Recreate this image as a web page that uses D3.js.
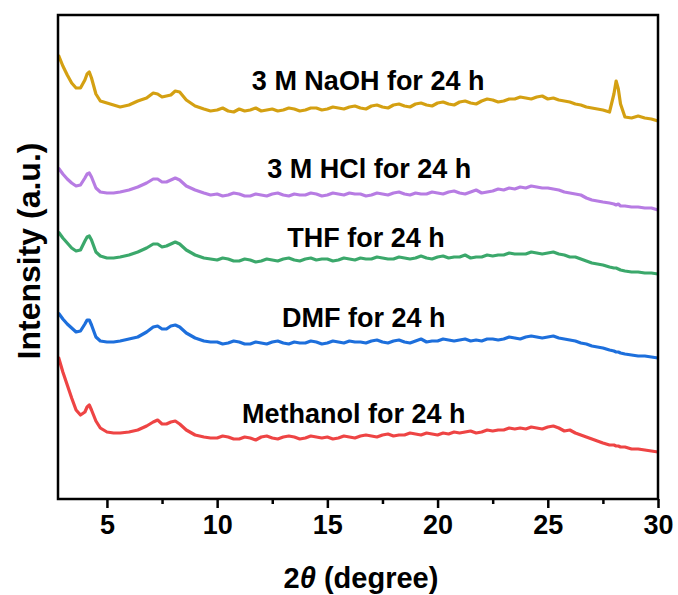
<!DOCTYPE html>
<html>
<head>
<meta charset="utf-8">
<script src="https://cdn.jsdelivr.net/npm/d3@7"></script>
<style>
  body { margin: 0; background: #fff; }
  text { font-family: "Liberation Sans", Arial, sans-serif; font-weight: bold; fill: #000; }
</style>
</head>
<body>
<div id="graph"></div>
<script>
// 2-theta grid shared by all patterns
var twoTheta = [
  2.8, 3.0, 3.2, 3.4, 3.6, 3.8, 4.0, 4.1, 4.2, 4.3, 4.5, 4.7, 5.0, 5.3, 5.6, 6.0, 6.4, 6.8,
  7.1, 7.3, 7.5, 7.7, 7.9, 8.1, 8.3, 8.6, 9.0, 9.4, 9.7,
  10.0, 10.25, 10.5, 10.75, 11.0, 11.25, 11.5, 11.75, 12.0, 12.25,
  12.5, 12.75, 13.0, 13.25, 13.5, 13.75, 14.0, 14.25, 14.5, 14.75,
  15.0, 15.25, 15.5, 15.75, 16.0, 16.25, 16.5, 16.75, 17.0, 17.25,
  17.5, 17.75, 18.0, 18.25, 18.5, 18.75, 19.0, 19.25, 19.5, 19.75,
  20.0, 20.25, 20.5, 20.75, 21.0, 21.25, 21.5, 21.75, 22.0, 22.25,
  22.5, 22.75, 23.0, 23.25, 23.5, 23.75, 24.0, 24.25, 24.5, 24.75,
  25.0, 25.25, 25.5, 25.75, 26.0, 26.25, 26.5, 26.75, 27.0, 27.25,
  27.5,
  27.8, 28.0, 28.1, 28.2, 28.3, 28.5, 28.8, 29.1, 29.4, 29.7, 30.0
];

// intensities (a.u., already offset for stacking)
var naoh = [
  444, 433, 424, 416, 411, 411, 419, 425, 427, 421, 405, 398, 396, 394, 392, 394, 398, 401,
  406, 405, 402, 403, 404, 408, 407, 399, 393, 390, 388,
  389, 391, 388, 387, 390, 388, 389, 391, 388, 389,
  390, 388, 389, 391, 390, 388, 389, 391, 391, 389,
  390, 392, 391, 390, 392, 393, 391, 390, 393, 394,
  392, 391, 394, 395, 393, 392, 395, 396, 394, 393,
  396, 397, 395, 394, 397, 398, 396, 395, 398, 400,
  399, 397, 398, 400, 400, 402, 401, 400, 402, 403,
  400, 401, 399, 398, 397, 395, 394, 392, 391, 390,
  389,
  387, 405, 418, 410, 395, 382, 381, 383, 381, 380, 378
];
var hcl = [
  331, 325, 320, 316, 313, 314, 321, 325, 326, 322, 311, 307, 306, 306, 307, 309, 312, 316,
  320, 320, 317, 317, 319, 321, 319, 313, 309, 306, 304,
  305, 303, 304, 306, 305, 303, 303, 305, 304, 303,
  305, 306, 304, 303, 305, 304, 304, 306, 305, 303,
  304, 306, 305, 304, 306, 305, 305, 303, 304, 306,
  305, 304, 306, 307, 305, 304, 306, 305, 305, 307,
  306, 305, 307, 308, 306, 305, 307, 309, 306, 307,
  308, 310, 309, 311, 310, 312, 311, 313, 312, 311,
  311, 310, 309, 307, 306, 305, 304, 301, 299, 298,
  297,
  296, 295, 294, 295, 293, 293, 292, 292, 291, 291, 289
];
var thf = [
  267, 261, 256, 251, 248, 249, 258, 262, 263, 259, 247, 243, 241, 241, 242, 244, 247, 251,
  255, 255, 252, 253, 255, 257, 255, 249, 244, 241, 240,
  239, 241, 240, 238, 238, 240, 239, 237, 238, 240,
  239, 238, 240, 241, 239, 238, 240, 241, 239, 240,
  240, 238, 239, 241, 240, 239, 241, 240, 240, 242,
  241, 240, 240, 242, 241, 240, 241, 243, 241, 240,
  242, 243, 241, 242, 242, 244, 241, 242, 242, 244,
  243, 244, 244, 246, 245, 245, 245, 247, 246, 245,
  246, 247, 245, 244, 242, 242, 240, 238, 236, 235,
  234,
  232, 231, 231, 230, 229, 228, 227, 227, 226, 226, 225
];
var dmf = [
  186, 180, 175, 171, 167, 168, 175, 179, 179, 174, 162, 158, 157, 157, 158, 160, 162, 167,
  172, 173, 170, 170, 173, 174, 172, 166, 161, 158, 157,
  157, 155, 156, 158, 157, 155, 155, 157, 156, 155,
  157, 158, 156, 155, 157, 156, 156, 158, 157, 155,
  156, 158, 157, 156, 158, 157, 157, 156, 158, 159,
  157, 156, 158, 159, 157, 156, 158, 160, 157, 158,
  158, 160, 159, 158, 159, 160, 158, 159, 158, 160,
  160, 159, 160, 162, 161, 160, 162, 163, 162, 161,
  162, 163, 161, 160, 159, 158, 156, 155, 153, 152,
  151,
  149, 148, 147, 147, 146, 145, 144, 143, 143, 142, 141
];
var methanol = [
  142, 127, 114, 101, 89, 84, 87, 92, 94, 89, 78, 71, 67, 66, 66, 67, 69, 73,
  77, 79, 75, 75, 77, 78, 75, 69, 64, 62, 61,
  61, 63, 62, 60, 60, 62, 61, 59, 62, 63,
  61, 60, 62, 63, 62, 60, 61, 63, 62, 61,
  62, 60, 61, 63, 62, 61, 63, 64, 63, 62,
  64, 65, 63, 64, 64, 66, 65, 64, 66, 65,
  64, 66, 65, 67, 66, 67, 68, 66, 67, 69,
  68, 69, 69, 71, 70, 71, 70, 72, 71, 70,
  72, 73, 71, 68, 69, 66, 64, 62, 60, 58,
  56,
  54, 54, 53, 53, 52, 52, 50, 50, 49, 48, 47
];

var seriesNames = ["3 M NaOH for 24 h", "3 M HCl for 24 h", "THF for 24 h", "DMF for 24 h", "Methanol for 24 h"];
var seriesValues = [naoh, hcl, thf, dmf, methanol];
var seriesColors = ["#d4a012", "#b77ce3", "#3ba86b", "#1d6fdc", "#ee4444"];
var xTicks = [5, 10, 15, 20, 25, 30];
var xMinorTicks = [7.5, 12.5, 17.5, 22.5, 27.5];

var width = 678, height = 595;
var plotLeft = 58, plotRight = 658, plotTop = 15, plotBottom = 499;

var svg = d3.select("#graph")
  .append("svg")
  .attr("width", width)
  .attr("height", height);

var x = d3.scaleLinear().domain([2.78, 30]).range([plotLeft, plotRight]);
var y = d3.scaleLinear().domain([0, 484]).range([plotBottom, plotTop]);

// patterns
var line = d3.line()
  .x(function(d, i) { return x(twoTheta[i]); })
  .y(function(d) { return y(d); });

seriesValues.forEach(function(vals, k) {
  svg.append("path")
    .datum(vals)
    .attr("fill", "none")
    .attr("stroke", seriesColors[k])
    .attr("stroke-width", 3.2)
    .attr("stroke-linejoin", "round")
    .attr("d", line);
});

// labels, centred above each pattern
var labelAt = [[16.85, 419], [16.9, 331], [16.75, 262], [16.65, 182], [16.2, 86]];
seriesNames.forEach(function(name, k) {
  svg.append("text")
    .attr("x", x(labelAt[k][0]))
    .attr("y", y(labelAt[k][1]))
    .attr("dy", "0.36em")
    .attr("text-anchor", "middle")
    .style("font-size", "27px")
    .text(name);
});

// frame
svg.append("rect")
  .attr("x", plotLeft).attr("y", plotTop)
  .attr("width", plotRight - plotLeft).attr("height", plotBottom - plotTop)
  .attr("fill", "none").attr("stroke", "#000").attr("stroke-width", 2.5);

// bottom axis
var xAxis = svg.append("g")
  .attr("transform", "translate(0," + plotBottom + ")")
  .call(d3.axisBottom(x).tickValues(xTicks).tickSize(9).tickPadding(7).tickFormat(d3.format("d")));
xAxis.select(".domain").remove();
xAxis.selectAll("line").attr("stroke-width", 2.5);
xAxis.selectAll("text").style("font-size", "27px").style("font-family", "'Liberation Sans', Arial, sans-serif").style("font-weight", "bold");

svg.append("g")
  .attr("transform", "translate(0," + plotBottom + ")")
  .call(d3.axisBottom(x).tickValues(xMinorTicks).tickSize(5).tickFormat(""))
  .call(function(g) { g.select(".domain").remove(); g.selectAll("line").attr("stroke-width", 2.5); });

// axis titles
var xt = svg.append("text")
  .attr("x", 361).attr("y", 588)
  .attr("text-anchor", "middle")
  .style("font-size", "29px");
xt.append("tspan").text("2");
xt.append("tspan").style("font-style", "italic").text("\u03b8");
xt.append("tspan").text(" (degree)");

svg.append("text")
  .attr("transform", "translate(40,251) rotate(-90)")
  .attr("text-anchor", "middle")
  .style("font-size", "32px")
  .text("Intensity (a.u.)");
</script>
</body>
</html>
